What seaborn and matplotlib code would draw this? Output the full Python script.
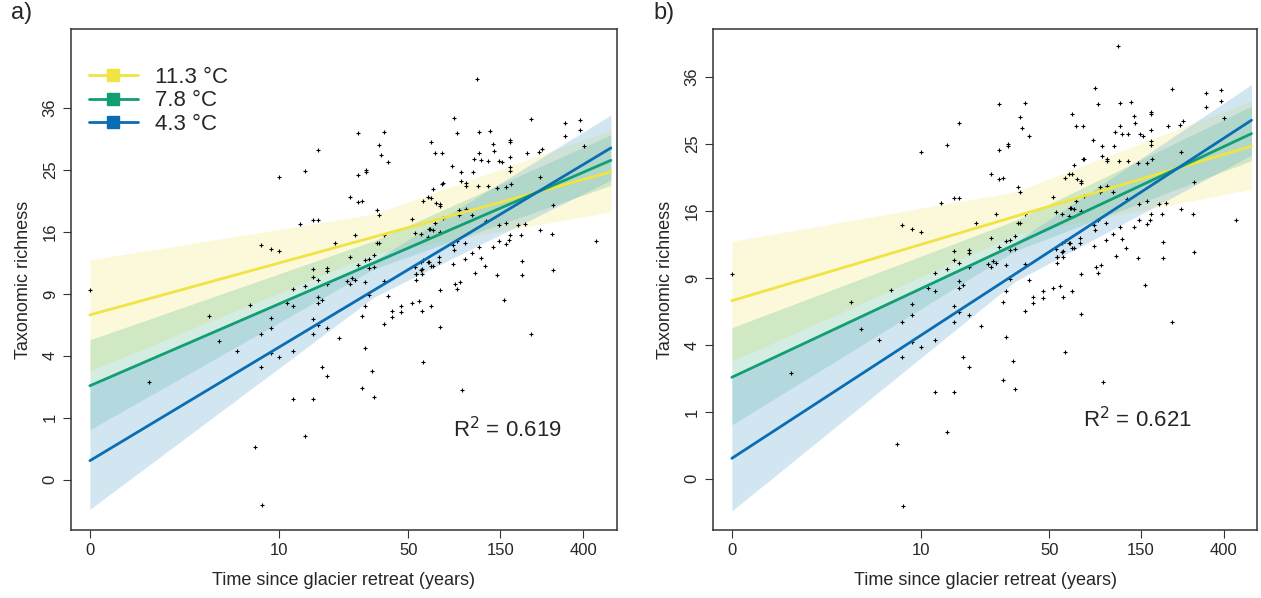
import numpy as np
import matplotlib
matplotlib.use("Agg")
import matplotlib.pyplot as plt
from matplotlib.lines import Line2D
import seaborn as sns

# observations: years since retreat, taxonomic richness
years = [
    27, 37, 16.4, 35, 36, 39, 10, 14, 30, 30, 27, 24.6, 27, 28.5, 34, 35, 52, 63, 60, 13,
    15.4, 16.4, 7.8, 8.9, 10, 20.4, 26, 34, 35, 37, 54, 58, 63, 64, 24.6, 27, 29.6, 31, 33, 15.4,
    15.4, 16.4, 18.5, 18.5, 12, 14, 18.5, 23.5, 24.6, 26, 25, 29.6, 33, 31, 37, 54, 58, 60, 63, 58,
    55, 55, 6.7, 11, 12, 16.4, 17.2, 16.4, 15.4, 16.4, 18.5, 8.9, 8.9, 7.8, 15.4, 21.5, 29.6, 31, 28.5, 39,
    37, 41, 41, 46, 46, 52, 57, 59, 5.6, 8.9, 10, 12, 29.6, 7.8, 17.2, 18.5, 32, 60, 12, 15.4,
    28.5, 33,
    114, 86, 216, 90, 117, 133, 323, 386, 386, 325, 66, 69, 75, 137, 140, 117, 110, 119, 129, 148,
    154, 168, 168, 168, 168, 168, 206, 238, 247, 84, 94, 108, 76, 75, 94, 100, 100, 115, 129, 145,
    160, 171, 67, 66, 70, 73, 73, 241, 280, 403, 464, 65, 69, 67, 73, 76, 92, 107, 100, 92,
    127, 147, 160, 186, 202, 241, 278, 192, 168, 166, 160, 147, 137, 116, 85, 86, 99, 90, 107, 119,
    125, 99, 85, 72, 72, 64, 59, 59, 55, 66, 67, 195, 195, 280, 145, 111, 93, 88, 90, 73,
    157, 66, 73, 216, 95,
    0, 3.7, 1.2, 7.9, 7.2, 14, 4.3,
]
richness = [
    31.3, 31.5, 28.3, 29.2, 27.5, 26.3, 23.9, 24.8, 25, 24.7, 24.2, 20.8, 20.1, 20.2, 19, 18.3, 17.7, 20.8, 20.2, 17,
    17.6, 17.6, 14.4, 13.9, 13.6, 14.6, 15.6, 14.6, 14.6, 15.6, 15.9, 15.7, 15.4, 16.4, 12.9, 12, 12.6, 12.7, 13.2, 11.6,
    10.7, 10.4, 11.7, 11.4, 9.5, 9.8, 10, 10.3, 10, 10.4, 10.6, 10.2, 11.8, 11.7, 10.3, 11.8, 12.4, 12.6, 12.4, 11.5,
    11, 10.4, 8, 8.1, 7.9, 8.7, 8.4, 8.1, 6.7, 6.2, 6, 6.8, 6, 5.5, 5.5, 5.2, 7.9, 8.9, 7, 8.8,
    6.3, 7.4, 6.9, 7.9, 7.3, 8.1, 8.3, 7.4, 4.3, 4.2, 3.9, 4.3, 4.5, 3.3, 3.3, 2.8, 3.1, 3.6, 1.7, 1.7,
    2.2, 1.8,
    41.8, 34.1, 33.9, 31.3, 31.5, 31.7, 33.2, 33.7, 31.9, 30.8, 29.7, 27.8, 27.8, 29.4, 28.2, 27.8, 26.8, 26.6, 26.5, 26.5,
    26.3, 30.1, 29.7, 27.1, 25.5, 24.8, 27.8, 28, 28.5, 25.6, 24.7, 24.7, 22.9, 22.8, 23.3, 22.9, 22.5, 22.5, 22.5, 22.2,
    22.3, 22.8, 22, 20.7, 20, 19.8, 19.5, 23.9, 19.7, 29, 14.9, 16.4, 17.2, 16.3, 16, 17.9, 18.3, 18.3, 19.1, 19,
    17.5, 16.9, 17.2, 16.9, 17, 16.3, 15.7, 15.6, 15.6, 15, 14.5, 14.9, 14.1, 14.1, 14.4, 13.8, 14.6, 14.9, 13.4, 12.8,
    11.9, 12.7, 12.1, 12.9, 12.4, 12.4, 11.6, 11, 11, 11.9, 11.9, 12.5, 10.9, 11.5, 10.9, 11.1, 10.2, 10, 9.5, 9.4,
    8.4, 7.9, 6.1, 5.5, 2.1,
    9.4, 7, 2.5, -0.17, 0.27, 0.5, 5,
]

# fitted curves (same model in both panels)
temps = ["11.3 °C", "7.8 °C", "4.3 °C"]
line_x = [0, 556]
fit_yellow = [7.08, 24.7]
fit_green = [2.3, 26.6]
fit_blue = [0.094, 28.7]
band_x = [0, 33, 556]
low_yellow = [3.09, 13.3, 18.7]
high_yellow = [12.6, 18.4, 31.9]
low_green = [0.65, 11.6, 22.6]
high_green = [5.1, 14.9, 31.0]
low_blue = [-0.23, 8.7, 23.4]
high_blue = [2.25, 12.5, 34.7]

x_ticks = [0, 10, 50, 150, 400]
y_ticks = [0, 1, 4, 9, 16, 25, 36]
r2_values = ["0.619", "0.621"]
panel_labels = ["a)", "b)"]

line_colors = ["#f0e442", "#119e73", "#0a6db3"]
band_colors = ["#f5eb7a", "#3aae7c", "#6aaed6"]
band_alpha = [0.28, 0.22, 0.3]

sns.set_style("ticks")
plt.rcParams["font.family"] = ["Liberation Sans", "DejaVu Sans"]

fig = plt.figure(figsize=(12.61, 5.98), dpi=100)
axes = [fig.add_axes([0.0563, 0.114, 0.4327, 0.837]),
        fig.add_axes([0.5654, 0.114, 0.4316, 0.837])]
ylims = [(-0.656, 52.9), (-0.58, 45.1)]
r2_pos = [(0.80, 0.20), (0.78, 0.22)]

fits = [fit_yellow, fit_green, fit_blue]
lows = [low_yellow, low_green, low_blue]
highs = [high_yellow, high_green, high_blue]

for i, ax in enumerate(axes):
    ax.set_xscale("function", functions=(lambda x: np.log(np.asarray(x) + 1.2),
                                         lambda u: np.exp(u) - 1.2))
    ax.set_yscale("function", functions=(lambda y: np.sign(y) * np.sqrt(np.abs(y)),
                                         lambda s: np.sign(s) * s ** 2))
    for k in range(3):
        ax.fill_between(band_x, lows[k], highs[k], color=band_colors[k],
                        alpha=band_alpha[k], lw=0)
    for k in range(3):
        ax.plot(line_x, fits[k], color=line_colors[k], lw=2)
    sns.scatterplot(x=years, y=richness, ax=ax, marker="+", color="black",
                    s=10, linewidth=0.8)
    ax.set_xlim(-0.24, 595)
    ax.set_ylim(*ylims[i])
    ax.set_xticks(x_ticks)
    ax.set_xticklabels([str(t) for t in x_ticks], fontsize=12)
    ax.set_yticks(y_ticks)
    ax.set_yticklabels([str(t) for t in y_ticks], fontsize=12, rotation=90, va="center")
    ax.tick_params(length=6, color="#333333")
    for sp in ax.spines.values():
        sp.set_color("#333333")
        sp.set_linewidth(1.1)
    ax.set_xlabel("Time since glacier retreat (years)", fontsize=13, labelpad=10)
    ax.set_ylabel("Taxonomic richness", fontsize=13, labelpad=8)
    ax.text(r2_pos[i][0], r2_pos[i][1], f"R$^2$ = {r2_values[i]}", transform=ax.transAxes,
            ha="center", va="center", fontsize=16)
    ax.text(-0.11, 1.032, panel_labels[i], transform=ax.transAxes, fontsize=17,
            ha="left", va="center")

handles = [Line2D([0], [0], color=c, lw=2, marker="s", markersize=8) for c in line_colors]
axes[0].legend(handles, temps, loc="upper left", frameon=False, fontsize=16,
               handlelength=2.2, labelspacing=0.1, borderaxespad=0.4,
               bbox_to_anchor=(0.0, 0.96))

fig.savefig("out.png", dpi=100)
